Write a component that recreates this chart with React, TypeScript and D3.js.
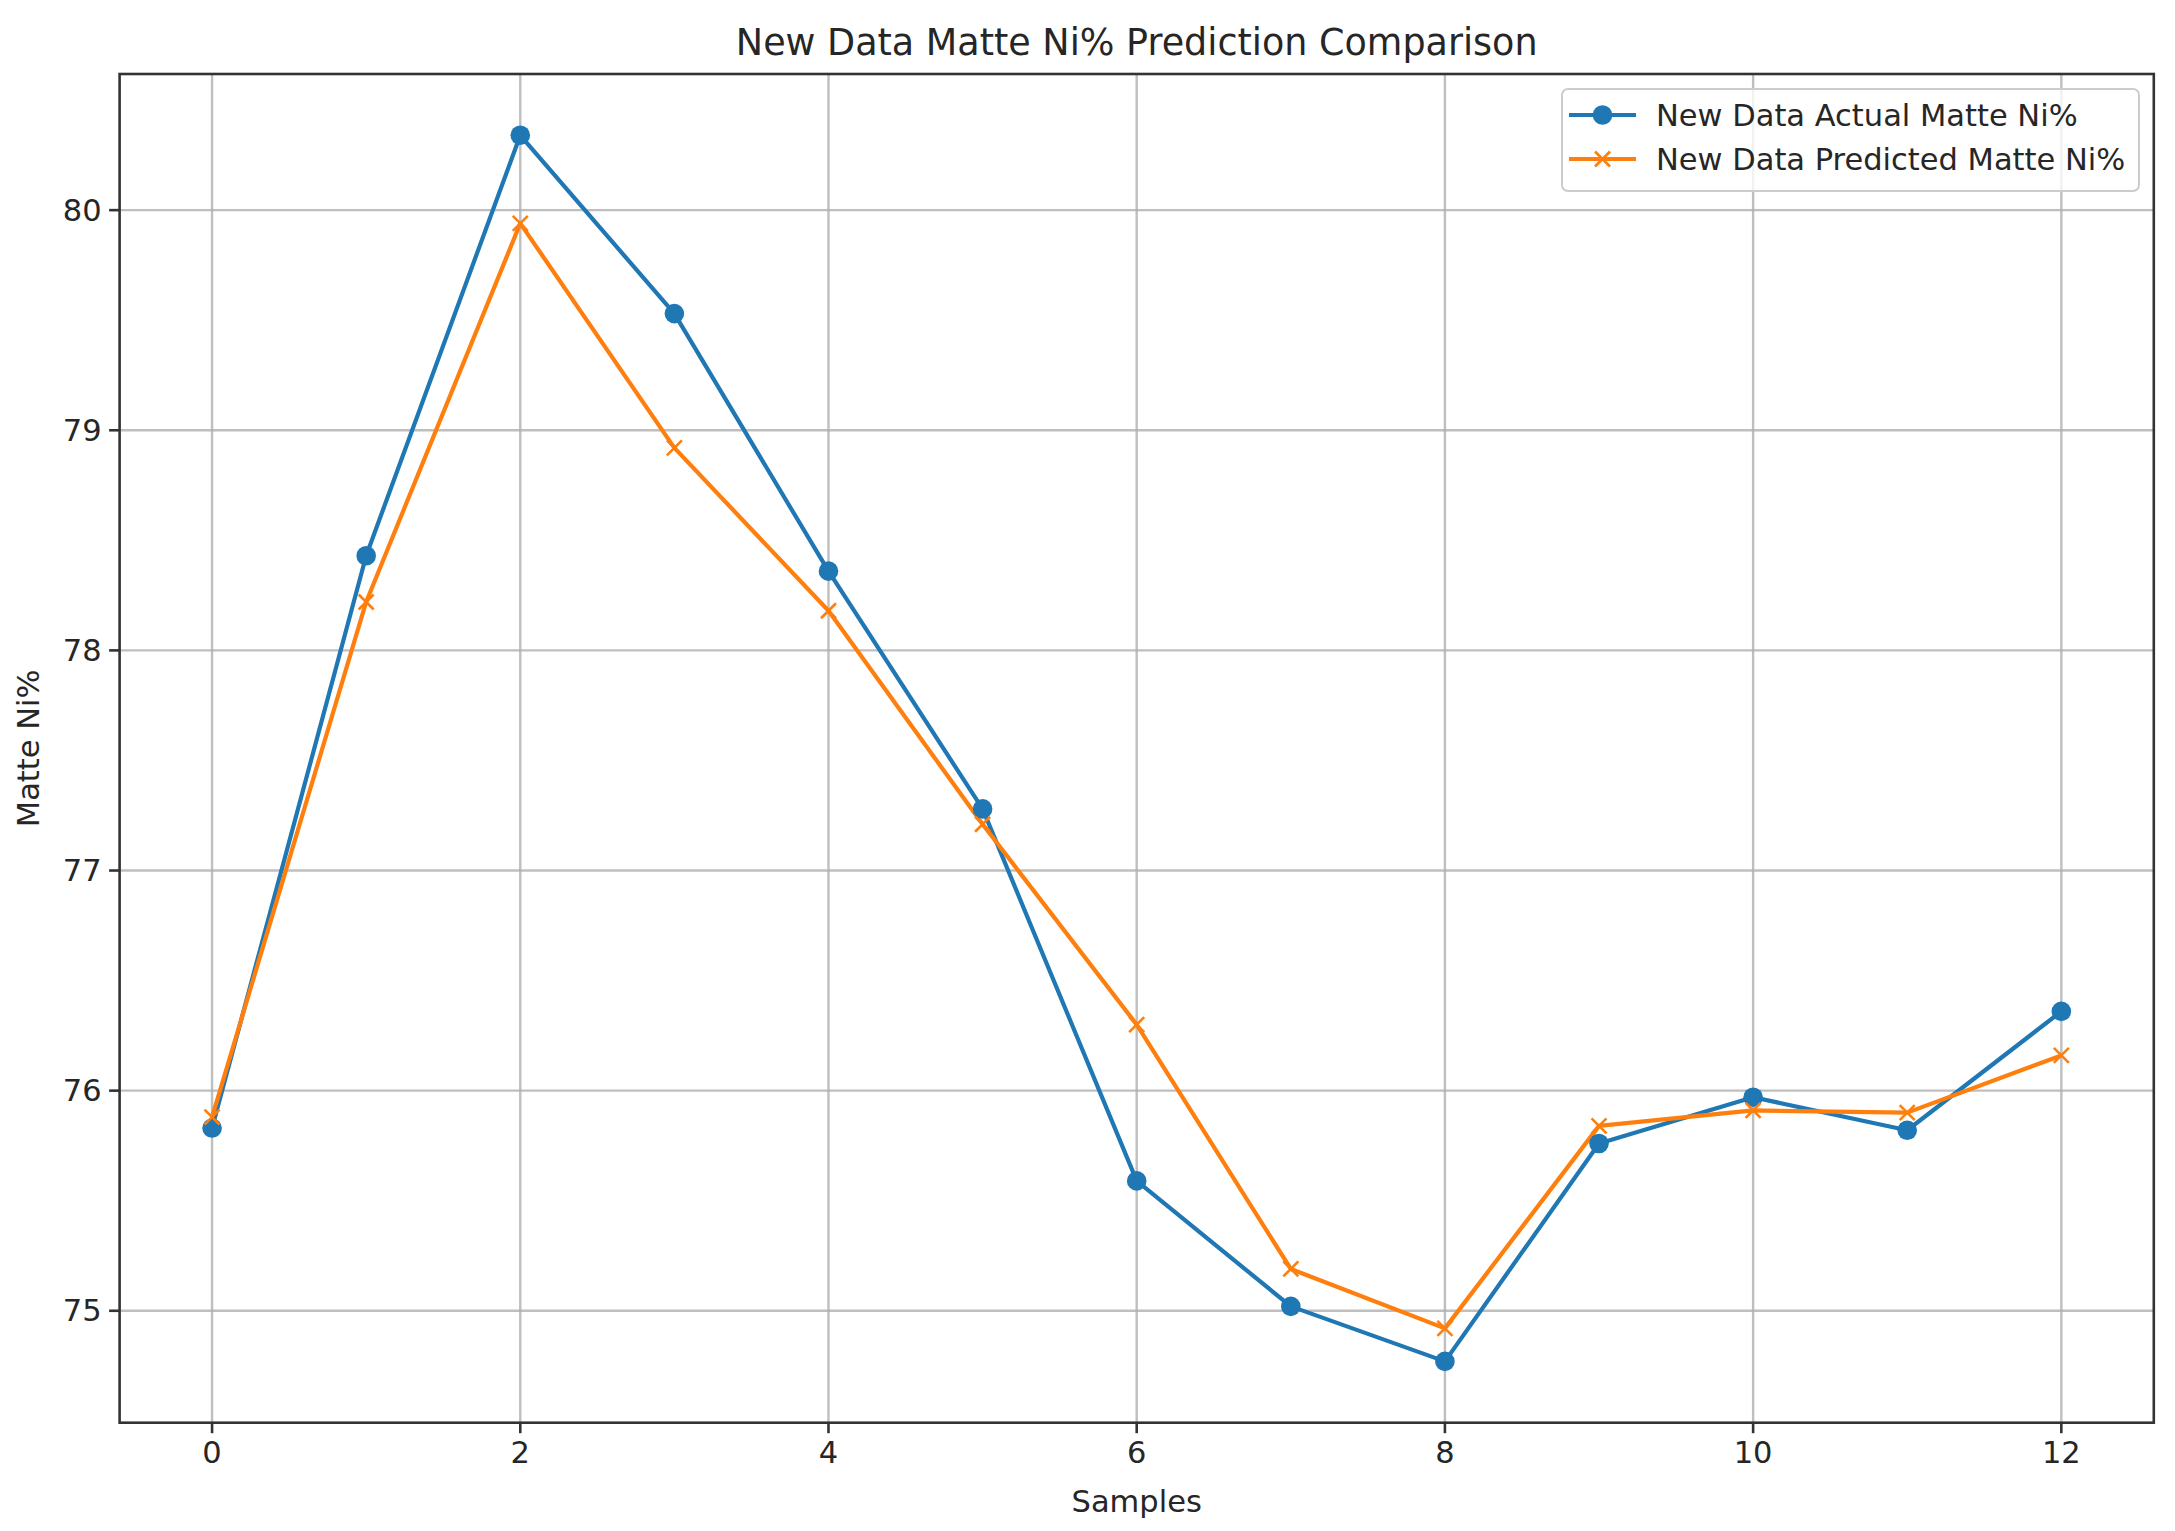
import React from "react";
import * as d3 from "d3";

const samples = [0, 1, 2, 3, 4, 5, 6, 7, 8, 9, 10, 11, 12];
const actual = [75.83, 78.43, 80.34, 79.53, 78.36, 77.28, 75.59, 75.02, 74.77, 75.76, 75.97, 75.82, 76.36];
const predicted = [75.88, 78.22, 79.94, 78.92, 78.18, 77.21, 76.3, 75.19, 74.92, 75.84, 75.91, 75.9, 76.16];
const xTicks = [0, 2, 4, 6, 8, 10, 12];
const yTicks = [75, 76, 77, 78, 79, 80];
const seriesNames = ["New Data Actual Matte Ni%", "New Data Predicted Matte Ni%"];
const title = "New Data Matte Ni% Prediction Comparison";

const W = 2175, H = 1531;
const L = 119.6, R = 2153.8, T = 74, B = 1422.7;
const FONT = "DejaVu Sans, sans-serif";
const BLUE = "#1f77b4", ORANGE = "#ff7f0e";
const FS = 30.5;

export default function App() {
  const x = d3.scaleLinear().domain([-0.6, 12.6]).range([L, R]);
  const yMin = d3.min([...actual, ...predicted])!;
  const yMax = d3.max([...actual, ...predicted])!;
  const pad = (yMax - yMin) * 0.05;
  const y = d3.scaleLinear().domain([yMin - pad, yMax + pad]).range([B, T]);
  const line = d3.line<number>().x((_, i) => x(samples[i])).y((d) => y(d));
  const xs = 7.5;
  const r = 9.8;

  return (
    <svg width={W} height={H} style={{ position: "absolute", left: 0, top: 0, background: "#fff" }} fontFamily={FONT}>
      <rect x={0} y={0} width={W} height={H} fill="#fff" />
      {xTicks.map((t) => (
        <line key={"gx" + t} x1={x(t)} x2={x(t)} y1={T} y2={B} stroke="#b0b0b0" strokeWidth={2.4} opacity={0.8} />
      ))}
      {yTicks.map((t) => (
        <line key={"gy" + t} x1={L} x2={R} y1={y(t)} y2={y(t)} stroke="#b0b0b0" strokeWidth={2.4} opacity={0.8} />
      ))}
      <path d={line(actual)!} fill="none" stroke={BLUE} strokeWidth={4.2} strokeLinejoin="round" />
      <path d={line(predicted)!} fill="none" stroke={ORANGE} strokeWidth={4.2} strokeLinejoin="round" />
      {actual.map((v, i) => (
        <circle key={"a" + i} cx={x(samples[i])} cy={y(v)} r={r} fill={BLUE} />
      ))}
      {predicted.map((v, i) => (
        <g key={"p" + i} stroke={ORANGE} strokeWidth={2.6}>
          <line x1={x(samples[i]) - xs} y1={y(v) - xs} x2={x(samples[i]) + xs} y2={y(v) + xs} />
          <line x1={x(samples[i]) - xs} y1={y(v) + xs} x2={x(samples[i]) + xs} y2={y(v) - xs} />
        </g>
      ))}
      <rect x={L} y={T} width={R - L} height={B - T} fill="none" stroke="#333" strokeWidth={2.6} />
      {xTicks.map((t) => (
        <g key={"xt" + t}>
          <line x1={x(t)} x2={x(t)} y1={B} y2={B + 10.5} stroke="#333" strokeWidth={2.6} />
          <text x={x(t)} y={B + 18} textAnchor="middle" dominantBaseline="hanging" fontSize={FS} fill="#262626">{t}</text>
        </g>
      ))}
      {yTicks.map((t) => (
        <g key={"yt" + t}>
          <line x1={L - 10.5} x2={L} y1={y(t)} y2={y(t)} stroke="#333" strokeWidth={2.6} />
          <text x={L - 18} y={y(t)} textAnchor="end" dominantBaseline="central" fontSize={FS} fill="#262626">{t}</text>
        </g>
      ))}
      <text x={(L + R) / 2} y={1501} textAnchor="middle" dominantBaseline="central" fontSize={FS} fill="#262626">Samples</text>
      <text transform={`translate(28,${(T + B) / 2}) rotate(-90)`} textAnchor="middle" dominantBaseline="central" fontSize={FS} fill="#262626">Matte Ni%</text>
      <text x={(L + R) / 2} y={42} textAnchor="middle" dominantBaseline="central" fontSize={36.5} fill="#262626">{title}</text>
      <g>
        <rect x={1562} y={89} width={577} height={102} rx={6} fill="#fff" fillOpacity={0.8} stroke="#cccccc" strokeWidth={2} />
        {seriesNames.map((name, i) => {
          const cy = 115 + i * 44;
          const color = i === 0 ? BLUE : ORANGE;
          const mx = 1602.5;
          return (
            <g key={name}>
              <line x1={1569} x2={1636} y1={cy} y2={cy} stroke={color} strokeWidth={4.2} />
              {i === 0 ? (
                <circle cx={mx} cy={cy} r={r} fill={BLUE} />
              ) : (
                <g stroke={ORANGE} strokeWidth={2.6}>
                  <line x1={mx - xs} y1={cy - xs} x2={mx + xs} y2={cy + xs} />
                  <line x1={mx - xs} y1={cy + xs} x2={mx + xs} y2={cy - xs} />
                </g>
              )}
              <text x={1656} y={cy} dominantBaseline="central" fontSize={FS} fill="#262626">{name}</text>
            </g>
          );
        })}
      </g>
    </svg>
  );
}
